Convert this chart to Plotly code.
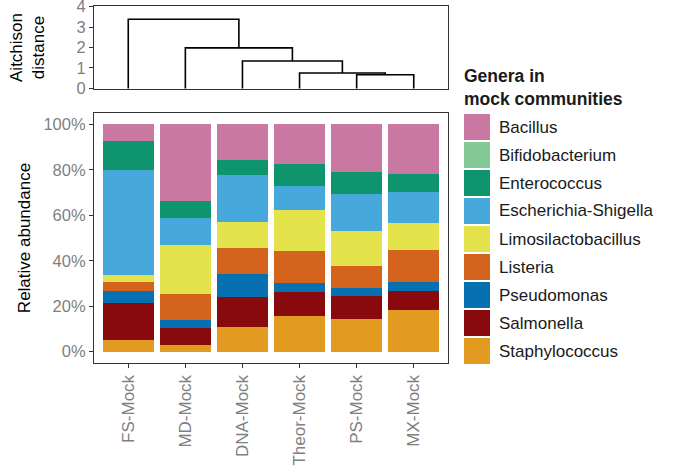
import plotly.graph_objects as go

samples = ["FS-Mock", "MD-Mock", "DNA-Mock", "Theor-Mock", "PS-Mock", "MX-Mock"]
genera = ["Bacillus", "Bifidobacterium", "Enterococcus", "Escherichia-Shigella",
          "Limosilactobacillus", "Listeria", "Pseudomonas", "Salmonella", "Staphylococcus"]
colors = ["#C978A2", "#84C995", "#0E956D", "#47A8DC", "#E5E34B",
          "#D4631E", "#0670B0", "#880A0C", "#E29B20"]

# relative abundance (%) per genus, in sample order
abund = {
    "Bacillus":             [7.2, 33.5, 15.5, 17.3, 20.8, 21.7],
    "Bifidobacterium":      [0.0, 0.0, 0.0, 0.0, 0.0, 0.0],
    "Enterococcus":         [12.7, 7.5, 6.6, 9.6, 9.7, 7.9],
    "Escherichia-Shigella": [46.4, 11.9, 20.7, 10.6, 16.6, 13.6],
    "Limosilactobacillus":  [3.2, 21.9, 11.4, 18.0, 15.0, 11.9],
    "Listeria":             [3.6, 11.4, 11.8, 14.3, 10.1, 14.4],
    "Pseudomonas":          [5.5, 3.6, 10.1, 4.1, 3.1, 4.0],
    "Salmonella":           [16.3, 7.4, 13.2, 10.6, 10.5, 8.3],
    "Staphylococcus":       [5.1, 2.8, 10.7, 15.5, 14.2, 18.2],
}

# dendrogram merges: (left, right, height); nodes referenced by sample name or merge index
merges = [
    ("PS-Mock", "MX-Mock", 0.67),
    ("Theor-Mock", 0, 0.75),
    ("DNA-Mock", 1, 1.34),
    ("MD-Mock", 2, 1.98),
    ("FS-Mock", 3, 3.38),
]
dist_ticks = [0, 1, 2, 3, 4]
pct_ticks = [0, 0.2, 0.4, 0.6, 0.8, 1.0]

FONT = "Liberation Sans, Arial, sans-serif"
GREY = "#7F7F7F"
BORDER = "#333333"

fig = go.Figure()

# stacked bars (bottom = last genus)
for g, c in reversed(list(zip(genera, colors))):
    fig.add_trace(go.Bar(
        x=samples, y=[v / 100 for v in abund[g]], name=g,
        marker=dict(color=c, line=dict(width=0)),
        width=0.9, showlegend=False, xaxis="x", yaxis="y",
    ))

# dendrogram segments
node_pos = {}
dx, dy = [], []
def pos(n):
    if isinstance(n, str):
        return samples.index(n), 0.0
    return node_pos[n]
for i, (a, b, h) in enumerate(merges):
    xa, ha = pos(a)
    xb, hb = pos(b)
    dx += [xa, xa, xb, xb, None]
    dy += [ha, h, h, hb, None]
    node_pos[i] = ((xa + xb) / 2, h)
fig.add_trace(go.Scatter(x=dx, y=dy, mode="lines", line=dict(color="black", width=1.6),
                         showlegend=False, hoverinfo="skip", xaxis="x2", yaxis="y2",
                         cliponaxis=False))

W, H = 678, 467
ml, mr, mt, mb = 94, 230, 6, 104
pw, ph = W - ml - mr, H - mt - mb

def px(xp):
    return (xp - ml) / pw
def py(yp):
    return (H - mb - yp) / ph

axis_common = dict(showline=True, mirror=True, linecolor=BORDER, linewidth=1.2,
                   showgrid=False, zeroline=False, automargin=False)

fig.update_layout(
    width=W, height=H,
    margin=dict(l=ml, r=mr, t=mt, b=mb, autoexpand=False),
    paper_bgcolor="white", plot_bgcolor="white",
    barmode="stack", bargap=0.1,
    font=dict(family=FONT, size=17, color="black"),
    xaxis=dict(**axis_common, domain=[0, 1], range=[-0.6, 5.6], type="category",
               ticks="outside", ticklen=4, tickcolor=BORDER, tickangle=-90,
               tickfont=dict(size=17, color=GREY, family=FONT), anchor="y",
               ticklabeloverflow="allow"),
    yaxis=dict(**axis_common, domain=[0, py(113)], range=[-0.05, 1.05],
               tickvals=pct_ticks, tickformat=".0%", ticks="outside", ticklen=4,
               tickcolor=BORDER, tickfont=dict(size=16.5, color=GREY, family=FONT),
               title=dict(text="Relative abundance", font=dict(size=17), standoff=8),
               anchor="x"),
    xaxis2=dict(**axis_common, domain=[0, 1], range=[-0.6, 5.6], showticklabels=False,
                ticks="", anchor="y2"),
    yaxis2=dict(**axis_common, domain=[py(89), 1], range=[-0.03, 4.03],
                tickvals=dist_ticks, ticks="outside", ticklen=4, tickcolor=BORDER,
                tickfont=dict(size=16.5, color=GREY, family=FONT),
                title=dict(text="Aitchison<br>distance", font=dict(size=17), standoff=27),
                anchor="x2", ticklabeloverflow="allow"),
)

# manual legend
shapes = []
ann = [dict(text="<b>Genera in</b><br><b>mock communities</b>", x=px(462), y=py(64),
            xref="paper", yref="paper", xanchor="left", yanchor="top", align="left",
            showarrow=False, font=dict(size=17.5, color="#1a1a1a", family=FONT))]
for i, (g, c) in enumerate(zip(genera, colors)):
    top = 114 + 28 * i
    shapes.append(dict(type="rect", xref="paper", yref="paper",
                       x0=px(464), x1=px(490), y0=py(top + 26), y1=py(top),
                       fillcolor=c, line=dict(width=0)))
    ann.append(dict(text=g, x=px(497), y=py(top + 13), xref="paper", yref="paper",
                    xanchor="left", yanchor="middle", showarrow=False,
                    font=dict(size=17, color="#1a1a1a", family=FONT)))
fig.update_layout(shapes=shapes, annotations=ann)

fig.write_html("out.html", config={"displayModeBar": False},
               post_script="document.body.style.margin='0';")
